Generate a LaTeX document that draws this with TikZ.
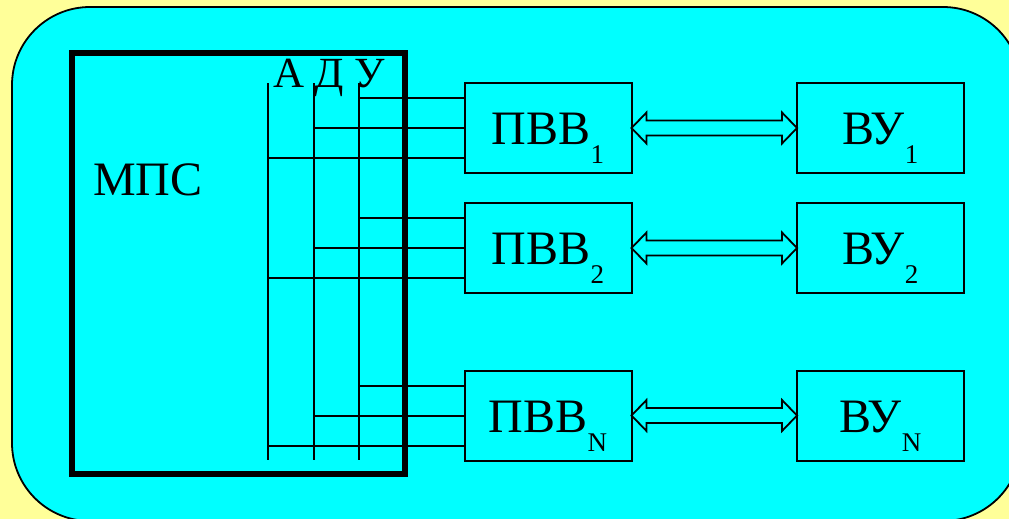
\documentclass[tikz,border=0pt]{standalone}
\usepackage{fontspec}
\setmainfont{Liberation Serif}
\usetikzlibrary{calc}
\definecolor{bgyellow}{HTML}{FFFF99}
\definecolor{panelcyan}{HTML}{00FFFF}
\newcommand\lowidx[1]{\raisebox{-19pt}{\fontsize{27}{27}\selectfont #1}}
\begin{document}
\begin{tikzpicture}[x=1pt,y=-1pt,
  unit/.style={draw, line width=2pt, minimum width=167pt, minimum height=90pt,
    inner sep=0pt, outer sep=0pt, text height=33pt, text depth=0pt,
    font=\fontsize{48}{48}\selectfont},
  bus/.style={line width=2pt},
  biarrow/.style={draw, line width=1.8pt, fill=panelcyan, line join=miter},
  lbl/.style={anchor=base west, inner sep=0pt, outer sep=0pt}]
\useasboundingbox (0,0) rectangle (1009,519);
\fill[bgyellow] (0,0) rectangle (1009,519);
\begin{scope}
  \clip (0,0) rectangle (1009,519);
  \draw[fill=panelcyan, line width=1.8pt, rounded corners=78pt] (12,7) rectangle (1021,521);
\end{scope}
% microprocessor system
\node[draw, line width=5.5pt, minimum width=333pt, minimum height=421pt,
      anchor=north west, inner sep=0pt, outer sep=0pt] (mps) at (72,53) {};
\node[lbl, font=\fontsize{48}{48}\selectfont] (mpslabel) at (93,195) {МПС};
\node[lbl, font=\fontsize{43}{43}\selectfont] (adu) at (273,87) {А Д У};
% bus lines
\coordinate (bA) at (268,83);  \coordinate (bAe) at (268,460);
\coordinate (bD) at (314,83);  \coordinate (bDe) at (314,460);
\coordinate (bU) at (359,83);  \coordinate (bUe) at (359,460);
\draw[bus] (bA) -- (bAe);
\draw[bus] (bD) -- (bDe);
\draw[bus] (bU) -- (bUe);
% interface units and devices
\node[unit] (p1) at (548,128) {ПВВ\lowidx{1}};
\node[unit] (p2) at (548,248) {ПВВ\lowidx{2}};
\node[unit] (pN) at (548,415.5) {ПВВ\lowidx{N}};
\node[unit] (v1) at (880.5,128) {ВУ\lowidx{1}};
\node[unit] (v2) at (880.5,248) {ВУ\lowidx{2}};
\node[unit] (vN) at (880.5,415.5) {ВУ\lowidx{N}};
\foreach \p/\v in {p1/v1,p2/v2,pN/vN}{
  \path ($(\p.west)+(0,-30)$) coordinate (\p-u)
        ($(\p.west)+(0,0)$)   coordinate (\p-d)
        ($(\p.west)+(0,30)$)  coordinate (\p-a);
  \draw[bus] (\p-u) -- (\p-u -| bU);
  \draw[bus] (\p-d) -- (\p-d -| bD);
  \draw[bus] (\p-a) -- (\p-a -| bA);
  \draw[biarrow] (\p.east) -- ++(15,-15.5) -- ++(0,8)
     -- ($(\v.west)+(-15,-7.5)$) -- ++(0,-8) -- (\v.west)
     -- ++(-15,15.5) -- ++(0,-8) -- ($(\p.east)+(15,7.5)$) -- ++(0,8) -- cycle;
}
\end{tikzpicture}
\end{document}
